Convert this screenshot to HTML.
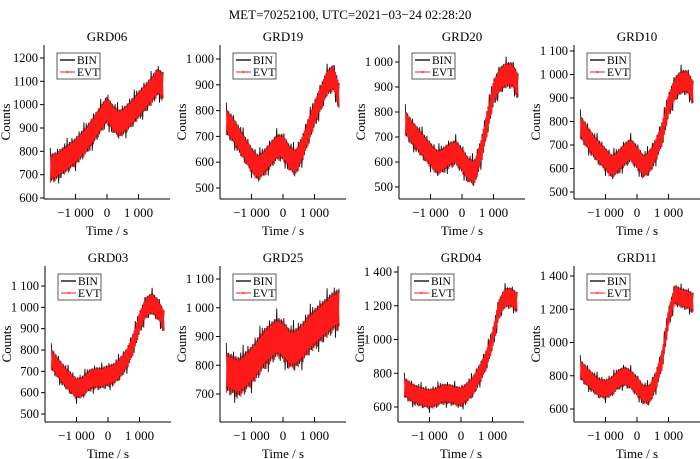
<!DOCTYPE html>
<html><head><meta charset="utf-8"><style>
html,body{margin:0;padding:0;background:#fff;}
svg{display:block;font-family:"Liberation Serif",serif;}
</style></head><body>
<svg id="chart" width="700" height="459" viewBox="0 0 700 459">
<text x="350" y="19" text-anchor="middle" font-size="13">MET=70252100, UTC=2021−03−24  02:28:20</text>
</svg>
<script>
const times=[-1800,-1600,-1400,-1200,-1000,-800,-600,-400,-200,0,200,400,600,800,1000,1200,1400,1600,1800];
const xTicks=[-1000,0,1000];
const xTickLabels=["−1 000","0","1 000"];
const names=["GRD06","GRD19","GRD20","GRD10","GRD03","GRD25","GRD04","GRD11"];
const grd06=[730,740,760,780,800,830,860,900,940,980,940,920,940,970,1000,1030,1060,1100,1080];
const grd19=[760,730,690,650,610,580,600,630,660,660,620,600,650,720,790,850,910,930,850];
const grd20=[760,720,690,660,630,600,610,630,640,610,570,560,640,760,880,930,950,950,900];
const grd10=[780,740,700,670,640,610,630,660,680,650,610,630,680,750,870,940,970,970,920];
const grd03=[760,720,680,650,620,630,660,670,670,680,690,720,760,830,930,1000,1020,990,930];
const grd25=[780,770,760,780,800,830,860,880,900,890,860,860,880,910,930,950,970,990,1000];
const grd04=[720,690,670,660,650,660,680,680,670,660,690,730,800,880,1000,1180,1250,1250,1220];
const grd11=[840,800,760,730,720,740,780,800,780,740,690,690,770,900,1150,1290,1270,1260,1240];
const halfWidths=[65,55,55,55,55,75,65,65];
const yTicks06=[600,700,800,900,1000,1100,1200];
const yTicks19=[500,600,700,800,900,1000];
const yTicks20=[500,600,700,800,900,1000];
const yTicks10=[500,600,700,800,900,1000,1100];
const yTicks03=[500,600,700,800,900,1000,1100];
const yTicks25=[700,800,900,1000,1100];
const yTicks04=[600,800,1000,1200,1400];
const yTicks11=[600,800,1000,1200,1400];
const yLabels06=["600","700","800","900","1000","1100","1200"];
const yLabels19=["500","600","700","800","900","1 000"];
const yLabels20=["500","600","700","800","900","1 000"];
const yLabels10=["500","600","700","800","900","1 000","1 100"];
const yLabels03=["500","600","700","800","900","1 000","1 100"];
const yLabels25=["700","800","900","1 000","1 100"];
const yLabels04=["600","800","1 000","1 200","1 400"];
const yLabels11=["600","800","1 000","1 200","1 400"];
const series=[grd06,grd19,grd20,grd10,grd03,grd25,grd04,grd11];
const yTickSets=[yTicks06,yTicks19,yTicks20,yTicks10,yTicks03,yTicks25,yTicks04,yTicks11];
const yLabelSets=[yLabels06,yLabels19,yLabels20,yLabels10,yLabels03,yLabels25,yLabels04,yLabels11];
const layout=[
 {ax:44,top:45,bot:199,v1:1200,p1:58,v2:600,p2:198},
 {ax:220,top:45,bot:199,v1:1000,p1:59,v2:500,p2:188},
 {ax:399,top:45,bot:199,v1:1000,p1:62,v2:500,p2:187},
 {ax:574,top:45,bot:199,v1:1100,p1:51,v2:500,p2:192},
 {ax:45,top:266,bot:422,v1:1100,p1:286,v2:500,p2:414},
 {ax:220,top:266,bot:422,v1:1100,p1:279,v2:700,p2:394},
 {ax:398,top:266,bot:422,v1:1400,p1:272,v2:600,p2:407},
 {ax:574,top:266,bot:422,v1:1400,p1:276,v2:600,p2:409}
];
const NS="http://www.w3.org/2000/svg";
const svg=document.getElementById('chart');
function mk(tag,attrs,parent){const e=document.createElementNS(NS,tag);for(const k in attrs)e.setAttribute(k,attrs[k]);parent.appendChild(e);return e;}
function interp(arr,t){const i=Math.min(times.length-2,Math.max(0,Math.floor((t-times[0])/(times[1]-times[0]))));const f=(t-times[i])/(times[i+1]-times[i]);return arr[i]+(arr[i+1]-arr[i])*f;}
series.forEach((data,k)=>{
 const L=layout[k];
 const zeroX=L.ax+63, scaleX=31.5/1000;
 const xS=t=>zeroX+t*scaleX;
 const yS=v=>L.p1+(v-L.v1)*(L.p2-L.p1)/(L.v2-L.v1);
 const g=mk('g',{},svg);
 
 
 const hw=halfWidths[k];
 let pb="",pr="",up="",lo=[];const x0=xS(times[0]),x1=xS(times[times.length-1]);
 let n=0;
 for(let x=x0;x<=x1;x+=1.2,n++){
  const t=(x-zeroX)/scaleX; const c=interp(data,t);
  const amp=(n%7===0)?1.3:((n%3===0)?1.05:0.9);
  const v=(n%2===0)?c+hw*amp:c-hw*amp;
  pb+=(pb?"L":"M")+x.toFixed(1)+","+yS(v).toFixed(1);
  const ampR=(n%4===0)?1.0:0.85;
  const vr=(n%2===0)?c-hw*ampR:c+hw*ampR;
  pr+=(pr?"L":"M")+x.toFixed(1)+","+yS(vr).toFixed(1);
  up+=(up?"L":"M")+x.toFixed(1)+","+yS(c+hw*0.7).toFixed(1);
  lo.push(x.toFixed(1)+","+yS(c-hw*0.7).toFixed(1));
 }
 const bin=mk('path',{d:pb,fill:'none',stroke:'#111','stroke-width':0.9},g);
 
 
 const band=mk('path',{d:up+"L"+lo.reverse().join("L")+"Z",fill:'#ff1a1a',stroke:'none'},g);
 
 
 const evt=mk('path',{d:pr,fill:'none',stroke:'#ff1a1a','stroke-width':1.1},g);
 
 
 mk('line',{x1:L.ax,y1:L.top,x2:L.ax,y2:L.bot,stroke:'#000','stroke-width':1},g);
 mk('line',{x1:L.ax,y1:L.bot,x2:L.ax+126,y2:L.bot,stroke:'#000','stroke-width':1},g);
 xTicks.forEach((t,i)=>{
  mk('line',{x1:xS(t),y1:L.bot,x2:xS(t),y2:L.bot-5,stroke:'#000','stroke-width':1},g);
  const tx=mk('text',{x:xS(t),y:L.bot+18,'text-anchor':'middle','font-size':13},g);
  tx.textContent=xTickLabels[i];
  
  
 });
 yTickSets[k].forEach((v,i)=>{
  mk('line',{x1:L.ax-4,y1:yS(v),x2:L.ax,y2:yS(v),stroke:'#000','stroke-width':1},g);
  const ty=mk('text',{x:L.ax-6,y:yS(v)+4,'text-anchor':'end','font-size':12.5},g);
  ty.textContent=yLabelSets[k][i];
  
  
 });
 const ti=mk('text',{x:L.ax+63,y:L.top-4,'text-anchor':'middle','font-size':13},g);
 ti.textContent=names[k];
 
 
 const xl=mk('text',{x:L.ax+63,y:L.bot+36,'text-anchor':'middle','font-size':13},g);
 xl.textContent="Time / s";
 
 
 const yx=L.ax-34, yy=(L.top+L.bot)/2;
 const yl=mk('text',{x:yx,y:yy,'text-anchor':'middle','font-size':13,transform:`rotate(-90 ${yx} ${yy})`},g);
 yl.textContent="Counts";
 
 
 const lg=mk('g',{},g);
 
 
 const lx=L.ax+13, ly=L.top+8;
 mk('rect',{x:lx,y:ly,width:43,height:26,fill:'#fff',stroke:'#333','stroke-width':0.8},lg);
 mk('line',{x1:lx+3,y1:ly+7,x2:lx+18,y2:ly+7,stroke:'#000','stroke-width':1.3},lg);
 mk('line',{x1:lx+3,y1:ly+19,x2:lx+18,y2:ly+19,stroke:'#ff1a1a','stroke-width':1},lg);
 mk('circle',{cx:lx+10.5,cy:ly+19,r:1,fill:'#ff1a1a'},lg);
 const t1=mk('text',{x:lx+20,y:ly+11,'font-size':11.5},lg);t1.textContent="BIN";
 
 
 const t2=mk('text',{x:lx+20,y:ly+23,'font-size':11.5},lg);t2.textContent="EVT";
 
 
});
</script>
</body></html>
